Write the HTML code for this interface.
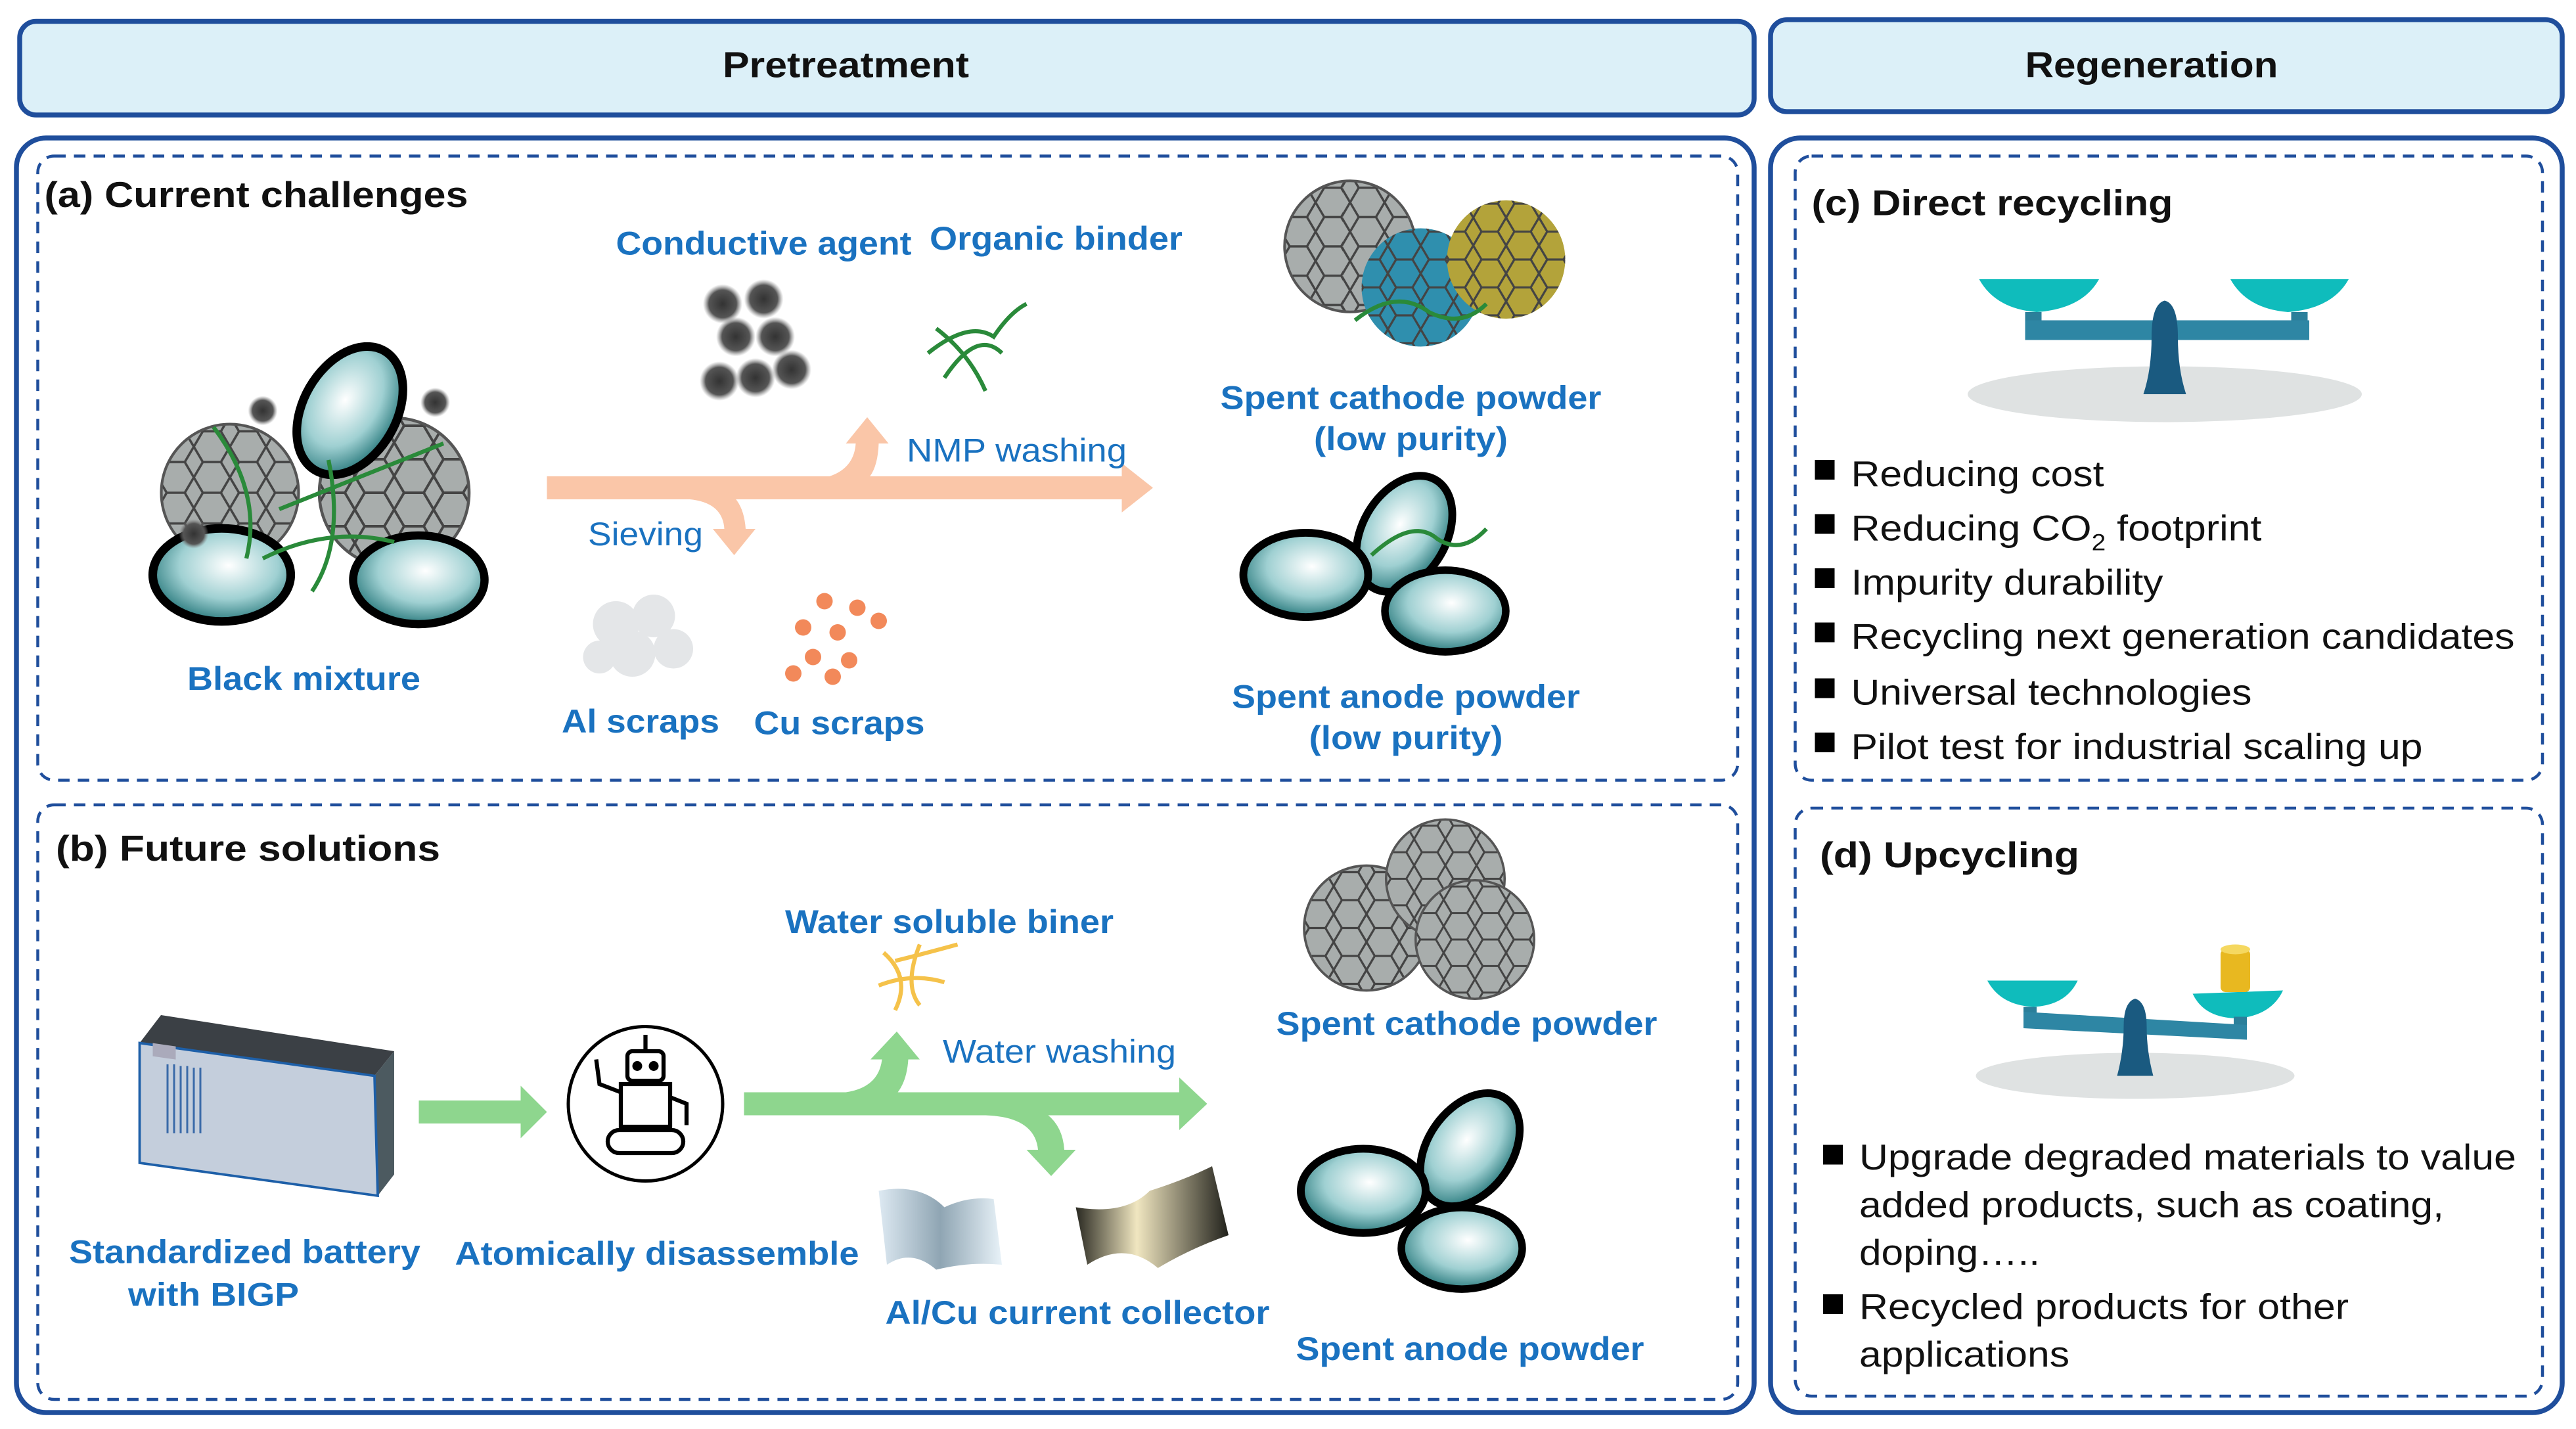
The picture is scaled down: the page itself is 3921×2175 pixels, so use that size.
<!DOCTYPE html>
<html><head><meta charset="utf-8"><style>
html,body{margin:0;padding:0;background:#fff;}
svg{display:block;}
text{font-family:"Liberation Sans",Arial,sans-serif;}
.b{fill:#1a72c0;font-weight:bold;font-size:20px;}
.k{fill:#111;font-weight:bold;font-size:22px;}
.l{fill:#111;font-size:22px;}
.m{fill:#1a72c0;font-size:20px;}
</style></head><body>
<svg width="3921" height="2175" viewBox="0 0 1568.4 870" xmlns="http://www.w3.org/2000/svg">
<defs>
<pattern id="cells" width="20" height="17" patternUnits="userSpaceOnUse">
<path d="M0 8.5 L5 0 L15 0 L20 8.5 L15 17 L5 17 Z" fill="none" stroke="#444" stroke-width="1.3"/>
</pattern>
<radialGradient id="an" cx="0.55" cy="0.4" r="0.6"><stop offset="0" stop-color="#ffffff"/><stop offset="0.6" stop-color="#9fd0d2"/><stop offset="1" stop-color="#2e7d80"/></radialGradient>
<radialGradient id="soot"><stop offset="0" stop-color="#333"/><stop offset="0.7" stop-color="#555"/><stop offset="1" stop-color="#888" stop-opacity="0"/></radialGradient>
<linearGradient id="al" x1="0" x2="1"><stop offset="0" stop-color="#dde9f2"/><stop offset="0.5" stop-color="#8fa5b3"/><stop offset="1" stop-color="#e8f2f8"/></linearGradient>
<linearGradient id="cu" x1="0" x2="1"><stop offset="0" stop-color="#2a2a22"/><stop offset="0.4" stop-color="#f0e6c0"/><stop offset="1" stop-color="#22221c"/></linearGradient>
<g id="anode"><ellipse rx="40" ry="27" fill="url(#an)" stroke="#000" stroke-width="5"/></g>
<g id="cath"><circle r="38" fill="#a8adac"/><circle r="38" fill="url(#cells)"/><circle r="38" fill="none" stroke="#555" stroke-width="1.5"/></g>
</defs>

<rect x="12" y="13" width="1056" height="57" rx="10" fill="#dcf0f8" stroke="#1f4e9c" stroke-width="3"/>
<text x="515" y="47" text-anchor="middle" class="k" textLength="150" lengthAdjust="spacingAndGlyphs">Pretreatment</text>
<rect x="1078" y="12" width="482" height="56" rx="10" fill="#dcf0f8" stroke="#1f4e9c" stroke-width="3"/>
<text x="1310" y="47" text-anchor="middle" class="k" textLength="154" lengthAdjust="spacingAndGlyphs">Regeneration</text>

<rect x="10" y="84" width="1058" height="776" rx="18" fill="none" stroke="#1f4e9c" stroke-width="3"/>
<rect x="1078" y="84" width="482" height="776" rx="18" fill="none" stroke="#1f4e9c" stroke-width="3"/>
<g fill="none" stroke="#1f4e9c" stroke-width="1.8" stroke-dasharray="7,5">
<rect x="23" y="95" width="1035" height="380" rx="10"/>
<rect x="23" y="490" width="1035" height="362" rx="10"/>
<rect x="1093" y="95" width="455" height="380" rx="10"/>
<rect x="1093" y="492" width="455" height="358" rx="10"/>
</g>

<text x="27" y="126" class="k" textLength="258" lengthAdjust="spacingAndGlyphs">(a) Current challenges</text>
<g>
<use href="#cath" transform="translate(140,300) scale(1.1)"/>
<use href="#cath" transform="translate(240,300) scale(1.2)"/>
<use href="#anode" transform="translate(213,250) rotate(-60) scale(1.05)"/>
<use href="#anode" transform="translate(135,350) scale(1.05)"/>
<use href="#anode" transform="translate(255,353) scale(1)"/>
<path d="M130 260 Q160 300 150 340 M170 310 Q220 290 270 270 M200 280 Q210 330 190 360 M160 340 Q200 320 240 330" stroke="#2a8a3a" stroke-width="2.5" fill="none"/>
<circle cx="160" cy="250" r="9" fill="url(#soot)"/><circle cx="265" cy="245" r="9" fill="url(#soot)"/><circle cx="118" cy="325" r="9" fill="url(#soot)"/>
</g>
<text x="185" y="420" text-anchor="middle" class="b" textLength="142" lengthAdjust="spacingAndGlyphs">Black mixture</text>
<g fill="url(#soot)"><circle cx="440" cy="185" r="12"/><circle cx="465" cy="182" r="12"/><circle cx="448" cy="205" r="12"/><circle cx="472" cy="205" r="12"/><circle cx="482" cy="225" r="12"/><circle cx="438" cy="232" r="12"/><circle cx="460" cy="230" r="12"/></g>
<text x="465" y="155" text-anchor="middle" class="b" textLength="180" lengthAdjust="spacingAndGlyphs">Conductive agent</text>
<text x="643" y="152" text-anchor="middle" class="b" textLength="154" lengthAdjust="spacingAndGlyphs">Organic binder</text>
<path d="M565 215 Q590 195 605 205 Q615 190 625 185 M575 230 Q595 200 610 215 M570 200 Q590 215 600 238" stroke="#2a8a3a" stroke-width="2.5" fill="none"/>
<g fill="#fac6a8">
<rect x="333" y="290" width="350" height="14"/>
<polygon points="683,282 702,297 683,312"/>
<path d="M505 290 Q520 285 521 270 L515 270 L528 254 L541 270 L535 270 Q534 297 515 297 Z"/>
<path d="M420 304 Q440 306 441 322 L434 322 L447 338 L460 322 L454 322 Q452 294 425 296 Z"/>
</g>
<text x="552" y="281" class="m" textLength="134" lengthAdjust="spacingAndGlyphs">NMP washing</text>
<text x="358" y="332" class="m" textLength="70" lengthAdjust="spacingAndGlyphs">Sieving</text>
<g fill="#e4e6e8"><circle cx="375" cy="380" r="14"/><circle cx="398" cy="375" r="13"/><circle cx="385" cy="398" r="14"/><circle cx="410" cy="395" r="12"/><circle cx="365" cy="400" r="10"/></g>
<g fill="#f2895a"><circle cx="502" cy="366" r="5"/><circle cx="522" cy="370" r="5"/><circle cx="489" cy="382" r="5"/><circle cx="510" cy="385" r="5"/><circle cx="535" cy="378" r="5"/><circle cx="495" cy="400" r="5"/><circle cx="517" cy="402" r="5"/><circle cx="483" cy="410" r="5"/><circle cx="507" cy="412" r="5"/></g>
<text x="390" y="446" text-anchor="middle" class="b" textLength="96" lengthAdjust="spacingAndGlyphs">Al scraps</text>
<text x="511" y="447" text-anchor="middle" class="b" textLength="104" lengthAdjust="spacingAndGlyphs">Cu scraps</text>
<use href="#cath" transform="translate(822,150) scale(1.05)"/>
<g transform="translate(865,175)"><circle r="36" fill="#2f8fae"/><circle r="36" fill="url(#cells)"/></g>
<g transform="translate(917,158)"><circle r="36" fill="#b3a33a"/><circle r="36" fill="url(#cells)"/></g>
<path d="M825 195 Q850 175 870 190 Q890 200 905 185" stroke="#2a8a3a" stroke-width="2.5" fill="none"/>
<text x="859" y="249" text-anchor="middle" class="b" textLength="232" lengthAdjust="spacingAndGlyphs">Spent cathode powder</text>
<text x="859" y="274" text-anchor="middle" class="b" textLength="118" lengthAdjust="spacingAndGlyphs">(low purity)</text>
<use href="#anode" transform="translate(855,325) rotate(-60) scale(0.95)"/>
<use href="#anode" transform="translate(795,350) scale(0.95)"/>
<use href="#anode" transform="translate(880,372) scale(0.92)"/>
<path d="M835 338 Q860 315 875 328 Q890 338 905 322" stroke="#2a8a3a" stroke-width="2.5" fill="none"/>
<text x="856" y="431" text-anchor="middle" class="b" textLength="212" lengthAdjust="spacingAndGlyphs">Spent anode powder</text>
<text x="856" y="456" text-anchor="middle" class="b" textLength="118" lengthAdjust="spacingAndGlyphs">(low purity)</text>

<text x="34" y="524" class="k" textLength="234" lengthAdjust="spacingAndGlyphs">(b)  Future solutions</text>
<polygon points="85,635 98,618 240,640 228,655" fill="#3b4045"/>
<polygon points="228,655 240,640 240,715 230,728" fill="#4c5a60"/>
<polygon points="85,635 228,655 230,728 85,708" fill="#c4cedc" stroke="#1d5fa8" stroke-width="1.5"/>
<rect x="93" y="622" width="14" height="8" fill="#aab" transform="skewY(8)"/>
<g stroke="#3a6aa8" stroke-width="1.2"><line x1="102" y1="648" x2="102" y2="690"/><line x1="106" y1="648" x2="106" y2="690"/><line x1="110" y1="649" x2="110" y2="690"/><line x1="114" y1="649" x2="114" y2="690"/><line x1="118" y1="650" x2="118" y2="690"/><line x1="122" y1="650" x2="122" y2="690"/></g>
<text x="42" y="769" class="b" textLength="214" lengthAdjust="spacingAndGlyphs">Standardized battery</text>
<text x="78" y="795" class="b" textLength="104" lengthAdjust="spacingAndGlyphs">with BIGP</text>
<g fill="#8ed68e">
<rect x="255" y="670" width="62" height="14"/>
<polygon points="317,661 333,677 317,693"/>
<rect x="453" y="665" width="265" height="14"/>
<polygon points="718,656 735,672 718,688"/>
<path d="M515 665 Q535 662 537 645 L530 645 L546 628 L560 645 L553 645 Q551 676 520 676 Z"/>
<path d="M600 679 Q630 680 632 700 L625 700 L640 716 L655 700 L648 700 Q646 670 605 670 Z"/>
</g>
<circle cx="393" cy="672" r="47" fill="#fff" stroke="#000" stroke-width="2"/>
<g fill="none" stroke="#000" stroke-width="2.5"><rect x="382" y="640" width="22" height="18" rx="3"/><rect x="378" y="660" width="30" height="26"/><rect x="370" y="688" width="46" height="14" rx="7"/><line x1="393" y1="630" x2="393" y2="640"/><path d="M378 665 L365 660 L363 645"/><path d="M408 668 L418 672 L418 685"/></g>
<g fill="#000"><circle cx="388" cy="649" r="3"/><circle cx="398" cy="649" r="3"/></g>
<text x="400" y="770" text-anchor="middle" class="b" textLength="246" lengthAdjust="spacingAndGlyphs">Atomically disassemble</text>
<text x="578" y="568" text-anchor="middle" class="b" textLength="200" lengthAdjust="spacingAndGlyphs">Water soluble biner</text>
<path d="M538 580 Q555 595 545 615 M560 575 Q550 600 560 612 M535 600 Q555 592 575 598 M545 585 Q565 580 583 575" stroke="#f5c24a" stroke-width="2.5" fill="none"/>
<text x="574" y="647" class="m" textLength="142" lengthAdjust="spacingAndGlyphs">Water washing</text>
<path d="M535 725 Q560 720 575 735 Q590 728 605 730 L610 770 Q590 768 570 773 Q555 760 540 770 Z" fill="url(#al)"/>
<path d="M655 735 Q685 740 700 725 Q722 718 738 710 L748 752 Q725 760 705 772 Q685 755 662 770 Z" fill="url(#cu)"/>
<text x="656" y="806" text-anchor="middle" class="b" textLength="234" lengthAdjust="spacingAndGlyphs">Al/Cu current collector</text>
<use href="#cath" transform="translate(832,565) scale(1)"/>
<use href="#cath" transform="translate(880,535) scale(0.95)"/>
<use href="#cath" transform="translate(898,572) scale(0.95)"/>
<text x="893" y="630" text-anchor="middle" class="b" textLength="232" lengthAdjust="spacingAndGlyphs">Spent cathode powder</text>
<use href="#anode" transform="translate(895,700) rotate(-55) scale(0.95)"/>
<use href="#anode" transform="translate(830,725) scale(0.95)"/>
<use href="#anode" transform="translate(890,760) scale(0.92)"/>
<text x="895" y="828" text-anchor="middle" class="b" textLength="212" lengthAdjust="spacingAndGlyphs">Spent anode powder</text>

<text x="1103" y="131" class="k" textLength="220" lengthAdjust="spacingAndGlyphs">(c) Direct recycling</text>
<ellipse cx="1318" cy="240" rx="120" ry="17" fill="#dfe2e2"/>
<path d="M1205 170 L1278 170 Q1268 188 1240 190 Q1215 188 1205 170 Z" fill="#0fbcbc"/>
<path d="M1358 170 L1430 170 Q1420 188 1393 190 Q1368 188 1358 170 Z" fill="#0fbcbc"/>
<rect x="1233" y="190" width="10" height="15" fill="#2b7f9a"/><rect x="1395" y="190" width="10" height="15" fill="#2b7f9a"/>
<rect x="1233" y="195" width="173" height="12" fill="#2e86a4"/>
<path d="M1305 240 Q1310 225 1310 205 Q1310 185 1318 183 Q1326 185 1326 205 Q1326 225 1331 240 Z" fill="#1a5a80"/>
<rect x="1105" y="280" width="12" height="12" fill="#000"/><text x="1127" y="296" class="l" textLength="154" lengthAdjust="spacingAndGlyphs">Reducing cost</text>
<rect x="1105" y="313" width="12" height="12" fill="#000"/><text x="1127" y="329" class="l" textLength="250" lengthAdjust="spacingAndGlyphs">Reducing CO<tspan font-size="14" dy="6">2</tspan><tspan dy="-6"> footprint</tspan></text>
<rect x="1105" y="346" width="12" height="12" fill="#000"/><text x="1127" y="362" class="l" textLength="190" lengthAdjust="spacingAndGlyphs">Impurity durability</text>
<rect x="1105" y="379" width="12" height="12" fill="#000"/><text x="1127" y="395" class="l" textLength="404" lengthAdjust="spacingAndGlyphs">Recycling next generation candidates</text>
<rect x="1105" y="413" width="12" height="12" fill="#000"/><text x="1127" y="429" class="l" textLength="244" lengthAdjust="spacingAndGlyphs">Universal technologies</text>
<rect x="1105" y="446" width="12" height="12" fill="#000"/><text x="1127" y="462" class="l" textLength="348" lengthAdjust="spacingAndGlyphs">Pilot test for industrial scaling up</text>

<text x="1108" y="528" class="k" textLength="158" lengthAdjust="spacingAndGlyphs">(d)  Upcycling</text>
<ellipse cx="1300" cy="655" rx="97" ry="14" fill="#dfe2e2"/>
<path d="M1210 597 L1265 597 Q1258 612 1238 613 Q1218 612 1210 597 Z" fill="#0fbcbc"/>
<path d="M1335 605 L1390 603 Q1383 618 1363 620 Q1342 620 1335 605 Z" fill="#0fbcbc"/>
<rect x="1232" y="613" width="8" height="10" fill="#2b7f9a"/><rect x="1360" y="619" width="8" height="8" fill="#2b7f9a"/>
<path d="M1232 616 L1368 624 L1368 633 L1232 626 Z" fill="#2e86a4"/>
<path d="M1289 655 Q1293 640 1293 625 Q1293 610 1300 608 Q1307 610 1307 625 Q1307 640 1311 655 Z" fill="#1a5a80"/>
<g fill="#e8b820"><rect x="1352" y="578" width="18" height="26" rx="3"/><ellipse cx="1361" cy="578" rx="9" ry="3" fill="#f5d860"/></g>
<rect x="1110" y="697" width="12" height="12" fill="#000"/>
<text x="1132" y="712" class="l" textLength="400" lengthAdjust="spacingAndGlyphs">Upgrade degraded materials to value</text>
<text x="1132" y="741" class="l" textLength="356" lengthAdjust="spacingAndGlyphs">added products, such as coating,</text>
<text x="1132" y="770" class="l" textLength="110" lengthAdjust="spacingAndGlyphs">doping…..</text>
<rect x="1110" y="788" width="12" height="12" fill="#000"/>
<text x="1132" y="803" class="l" textLength="298" lengthAdjust="spacingAndGlyphs">Recycled products for other</text>
<text x="1132" y="832" class="l" textLength="128" lengthAdjust="spacingAndGlyphs">applications</text>
</svg>
</body></html>
